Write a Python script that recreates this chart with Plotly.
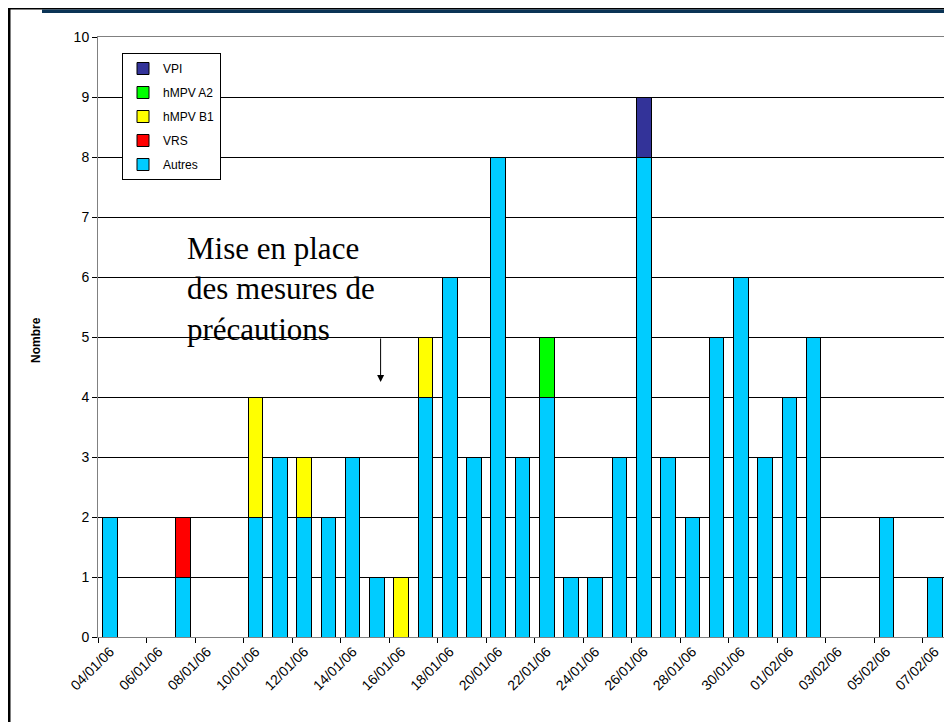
import plotly.graph_objects as go

dates = ["04/01/06", "05/01/06", "06/01/06", "07/01/06", "08/01/06", "09/01/06",
         "10/01/06", "11/01/06", "12/01/06", "13/01/06", "14/01/06", "15/01/06",
         "16/01/06", "17/01/06", "18/01/06", "19/01/06", "20/01/06", "21/01/06",
         "22/01/06", "23/01/06", "24/01/06", "25/01/06", "26/01/06", "27/01/06",
         "28/01/06", "29/01/06", "30/01/06", "31/01/06", "01/02/06", "02/02/06",
         "03/02/06", "04/02/06", "05/02/06", "06/02/06", "07/02/06"]

autres = [2, 0, 0, 1, 0, 0, 2, 3, 2, 2, 3, 1, 0, 4, 6, 3, 8, 3, 4, 1, 1, 3, 8, 3,
          2, 5, 6, 3, 4, 5, 0, 0, 2, 0, 1]
vrs = [0, 0, 0, 1, 0, 0, 0, 0, 0, 0, 0, 0, 0, 0, 0, 0, 0, 0, 0, 0, 0, 0, 0, 0,
       0, 0, 0, 0, 0, 0, 0, 0, 0, 0, 0]
hmpv_b1 = [0, 0, 0, 0, 0, 0, 2, 0, 1, 0, 0, 0, 1, 1, 0, 0, 0, 0, 0, 0, 0, 0, 0, 0,
           0, 0, 0, 0, 0, 0, 0, 0, 0, 0, 0]
hmpv_a2 = [0, 0, 0, 0, 0, 0, 0, 0, 0, 0, 0, 0, 0, 0, 0, 0, 0, 0, 1, 0, 0, 0, 0, 0,
           0, 0, 0, 0, 0, 0, 0, 0, 0, 0, 0]
vpi = [0, 0, 0, 0, 0, 0, 0, 0, 0, 0, 0, 0, 0, 0, 0, 0, 0, 0, 0, 0, 0, 0, 1, 0,
       0, 0, 0, 0, 0, 0, 0, 0, 0, 0, 0]

# stacked bottom -> top; legend rank puts VPI first
series = [("Autres", autres, "#00CCFF", 5),
          ("VRS", vrs, "#FF0000", 4),
          ("hMPV B1", hmpv_b1, "#FFFF00", 3),
          ("hMPV A2", hmpv_a2, "#00FF00", 2),
          ("VPI", vpi, "#333399", 1)]

y_ticks = list(range(0, 11))
annot_text = "Mise en place<br>des mesures de<br>précautions"

OFF = 8  # page body margin
W, H = 952 - OFF, 722 - OFF
# plot area in screenshot pixels: x 98..947, y 37..637
L, R = 98 - OFF, 952 - 947
T, B = 37 - OFF, 722 - 637
pw, ph = W - L - R, H - T - B


def px(xs):
    return (xs - OFF - L) / pw


def py(ys):
    return (H - B - (ys - OFF)) / ph


fig = go.Figure()
for name, vals, col, rank in series:
    fig.add_trace(go.Bar(
        x=dates, y=[v if v else None for v in vals], name=name,
        legendgroup=name, legendrank=rank,
        marker=dict(color=col, line=dict(color="#000000", width=1)),
    ))

font_main = "Arial, 'Liberation Sans', sans-serif"

fig.update_layout(
    width=W, height=H,
    margin=dict(l=L, r=R, t=T, b=B, pad=0),
    barmode="stack", bargap=0.4,
    paper_bgcolor="white", plot_bgcolor="white",
    font=dict(family=font_main, size=13, color="black"),
    showlegend=True,
    legend=dict(
        x=px(122), y=py(53), xanchor="left", yanchor="top",
        bgcolor="white", bordercolor="black", borderwidth=1,
        font=dict(family=font_main, size=12, color="black"),
        traceorder="grouped", tracegroupgap=5,
        itemwidth=30,
    ),
    xaxis=dict(
        type="category", tickmode="linear", tick0=0, dtick=2,
        tickson="boundaries", ticks="outside", ticklen=5, tickcolor="#000000",
        tickangle=-45, tickfont=dict(family=font_main, size=14, color="black"),
        showgrid=False, showline=True, linecolor="#808080", mirror=True,
        range=[-0.5, len(dates) - 0.5],
    ),
    yaxis=dict(
        range=[0, 10], tickvals=y_ticks, ticks="outside", ticklen=5,
        tickcolor="#000000", tickfont=dict(family=font_main, size=14, color="black"),
        showgrid=True, gridcolor="#000000", gridwidth=1, zeroline=False,
        showline=True, linecolor="#808080", mirror=True,
    ),
)

# y-axis title
fig.add_annotation(
    text="<b>Nombre</b>", textangle=-90, xref="paper", yref="paper",
    x=px(36), y=py(340), xanchor="center", yanchor="middle", showarrow=False,
    font=dict(family=font_main, size=12, color="black"),
)

# text annotation
fig.add_annotation(
    text=annot_text, xref="paper", yref="paper", x=px(185), y=py(229),
    xanchor="left", yanchor="top", align="left", showarrow=False,
    font=dict(family="'Times New Roman', 'Liberation Serif', serif", size=31, color="black"),
)

# arrow
fig.add_annotation(
    text="", x=11.15, y=4.25, ax=11.15, ay=5.0, xref="x", yref="y",
    axref="x", ayref="y", showarrow=True, arrowhead=2, arrowsize=1.4,
    arrowwidth=1, arrowcolor="#000000", standoff=0,
)

# outer frame
fig.add_shape(type="line", xref="paper", yref="paper",
              x0=px(9), x1=px(955), y0=py(8.5), y1=py(8.5),
              line=dict(color="#000000", width=2))
fig.add_shape(type="rect", xref="paper", yref="paper",
              x0=px(42), x1=px(955), y0=py(9.5), y1=py(13),
              line=dict(width=0), fillcolor="#0B3456")
fig.add_shape(type="line", xref="paper", yref="paper",
              x0=px(9), x1=px(9), y0=py(7.5), y1=py(725),
              line=dict(color="#000000", width=3))

fig.write_html("out.html")
